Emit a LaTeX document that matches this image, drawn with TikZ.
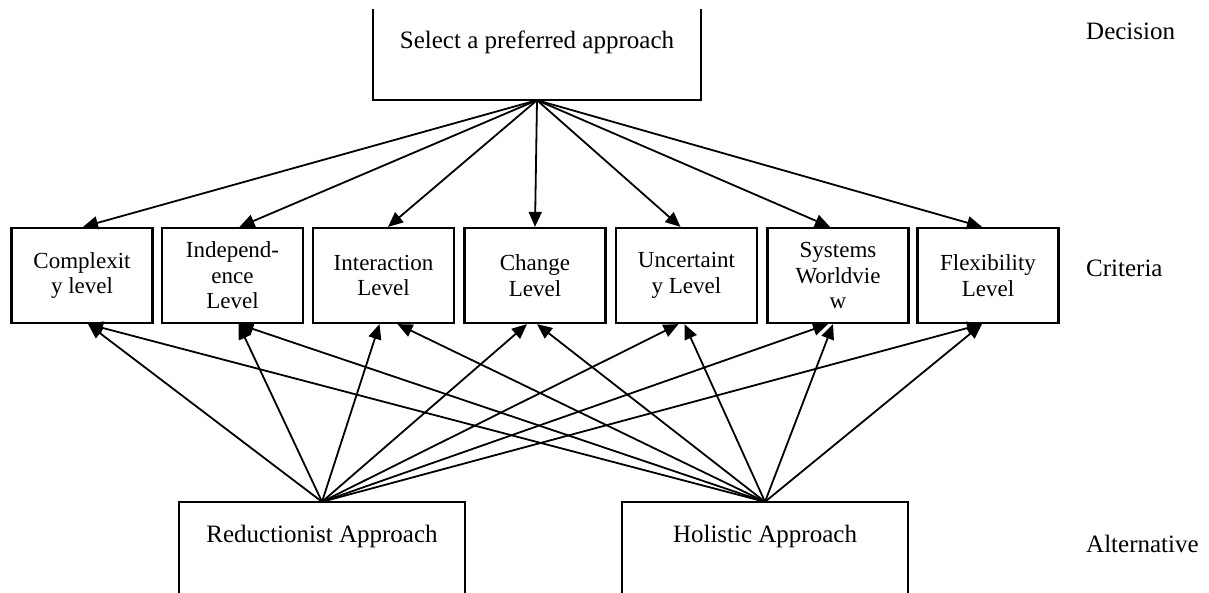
\documentclass[tikz,border=0pt]{standalone}
\usepackage{fontspec}
\setmainfont{Liberation Serif}
\usetikzlibrary{arrows.meta}
\begin{document}
\begin{tikzpicture}[x=1pt,y=-1pt,
  boxline/.style={line width=2.2pt},
  shapebox/.style={draw=none, inner sep=0pt},
  crit/.style={draw, line width=2.2pt, minimum width=141pt, minimum height=95pt,
    inner sep=0pt, align=center, font=\fontsize{23}{25.5}\selectfont},
  arr/.style={line width=1.8pt, -{Triangle[length=15pt,width=13pt]}},
  lbl/.style={font=\fontsize{25}{28}\selectfont, inner sep=0pt, anchor=base},
  side/.style={font=\fontsize{25}{28}\selectfont, inner sep=0pt, anchor=base west}]
\useasboundingbox (0,0) rectangle (1209,592);
\clip (0,0) rectangle (1209,592);
\fill[white] (0,0) rectangle (1209,592);

% decision box (top edge cut off)
\node[shapebox, minimum width=328pt, minimum height=91pt] (dec) at (537,54.5) {};
\draw[boxline] (dec.north west) -- (dec.south west) -- (dec.south east) -- (dec.north east);
\node[lbl] (dect) at (537,48) {Select a preferred approach};

% criteria boxes
\node[crit] (c1) at (82,275.5) {Complexit\\y level};
\node[crit] (c2) at (232.5,275.5) {Independ-\\ence\\Level};
\node[crit] (c3) at (383.5,275.5) {Interaction\\Level};
\node[crit] (c4) at (535,275.5) {Change\\Level};
\node[crit] (c5) at (686.5,275.5) {Uncertaint\\y Level};
\node[crit] (c6) at (838,275.5) {Systems\\Worldvie\\w};
\node[crit] (c7) at (988,275.5) {Flexibility\\Level};

% alternative boxes (bottom edge cut off)
\node[shapebox, minimum width=286pt, minimum height=100pt] (red) at (322,552) {};
\draw[boxline] (red.south west) -- (red.north west) -- (red.north east) -- (red.south east);
\node[lbl] (redt) at (322,542) {Reductionist Approach};
\node[shapebox, minimum width=286pt, minimum height=100pt] (hol) at (765,552) {};
\draw[boxline] (hol.south west) -- (hol.north west) -- (hol.north east) -- (hol.south east);
\node[lbl] (holt) at (765,542) {Holistic Approach};

% level labels
\node[side] (ldec) at (1086,39) {Decision};
\node[side] (lcrit) at (1086,276) {Criteria};
\node[side] (lalt) at (1086,552) {Alternative};

% arrows decision -> criteria
\foreach \i/\o in {1/1,2/7,3/4.5,4/0,5/-6,6/-8,7/-6}
  \draw[arr] (dec.south) -- ([xshift=\o pt]c\i.north);
% arrows alternatives -> criteria
\foreach \i/\o in {1/6,2/6,3/-4,4/-8,5/-8,6/-10,7/-6}
  \draw[arr] (red.north) -- ([xshift=\o pt]c\i.south);
\foreach \i/\o in {1/6,2/6,3/14,4/2,5/-2,6/-5,7/-6}
  \draw[arr] (hol.north) -- ([xshift=\o pt]c\i.south);
\end{tikzpicture}
\end{document}
